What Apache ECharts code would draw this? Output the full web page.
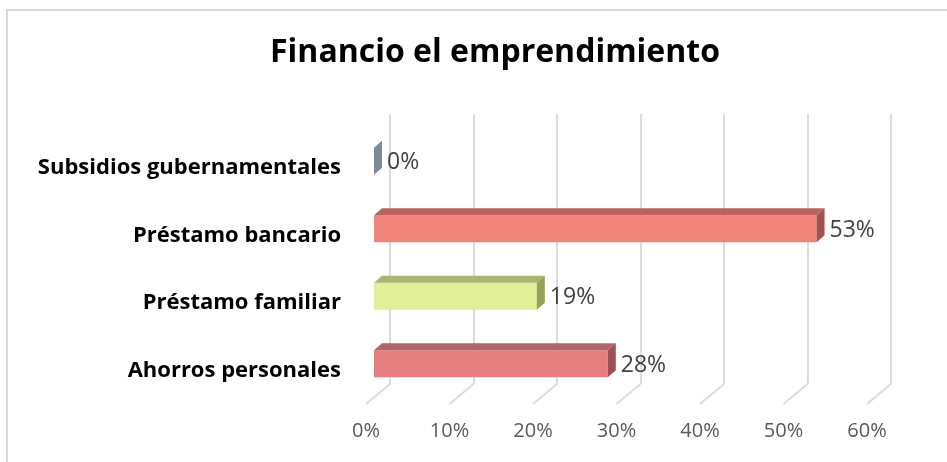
<!DOCTYPE html>
<html>
<head>
<meta charset="utf-8">
<script src="https://cdn.jsdelivr.net/npm/echarts@6/dist/echarts.min.js"></script>
<style>
html, body { margin: 0; background: #fff; }
#main { width: 947px; height: 462px; }
</style>
</head>
<body>
<div id="main"></div>
<script>
const categories = ['Ahorros personales', 'Préstamo familiar', 'Préstamo bancario', 'Subsidios gubernamentales']
const values = [28, 19.5, 53, 0]
const valueLabels = ['28%', '19%', '53%', '0%']
const xTicks = [0, 10, 20, 30, 40, 50, 60]

// front / top / side colours for each bar
const frontColors = ['#e67d80', '#e2ef96', '#f2837a', '#7c889c']
const topColors = ['#b46366', '#a9b56e', '#b9645c', '#7c889c']
const sideColors = ['#9c5252', '#97a15e', '#a0544c', '#7c889c']

const myChart = echarts.init(document.querySelector('#main'))

const plotW = 501
const plotH = 270
const font = 'Open Sans'

myChart.setOption({
    animation: false,
    title: {
        text: 'Financio el emprendimiento',
        left: 490,
        top: 32,
        textAlign: 'center',
        textStyle: { fontFamily: font, fontWeight: 'bold', fontSize: 32, color: '#000' }
    },
    graphic: [{
        type: 'rect',
        shape: { x: 7, y: 10, width: 980, height: 480 },
        style: { fill: null, stroke: '#d9d9d9', lineWidth: 2 },
        silent: true
    }],
    grid: [
        // bar plane
        { left: 374, top: 124, width: plotW, height: plotH },
        // front plane (labels)
        { left: 366, top: 134, width: plotW, height: plotH },
        // back wall
        { left: 390, top: 114, width: plotW, height: plotH }
    ],
    xAxis: [
        { gridIndex: 0, type: 'value', min: 0, max: 60, interval: 10, show: false },
        {
            gridIndex: 1, type: 'value', min: 0, max: 60, interval: 10,
            axisLine: { show: false }, axisTick: { show: false }, splitLine: { show: false },
            axisLabel: { margin: 17, formatter: '{value}%', fontFamily: font, fontSize: 20, color: '#595959' }
        },
        {
            gridIndex: 2, type: 'value', min: 0, max: 60, interval: 10,
            axisLine: { show: false }, axisTick: { show: false }, axisLabel: { show: false },
            splitLine: { show: true, lineStyle: { color: '#dcdcdc', width: 2 } }
        }
    ],
    yAxis: [
        { gridIndex: 0, type: 'category', data: categories, show: false },
        {
            gridIndex: 1, type: 'category', data: categories,
            axisLine: { show: false }, axisTick: { show: false },
            axisLabel: { margin: 25, fontFamily: font, fontWeight: 'bold', fontSize: 22, color: '#000' }
        },
        { gridIndex: 2, type: 'category', data: categories, show: false }
    ],
    series: [
        {
            // floor lines from back wall to front edge
            type: 'custom',
            xAxisIndex: 0,
            yAxisIndex: 0,
            silent: true,
            data: xTicks.map(t => [t, 0]),
            renderItem: (params, api) => {
                const x = api.coord([api.value(0), 0])[0]
                const bottom = params.coordSys.y + params.coordSys.height
                return {
                    type: 'line',
                    shape: { x1: x + 16, y1: bottom - 10, x2: x - 8, y2: bottom + 10 },
                    style: { stroke: '#dcdcdc', lineWidth: 2 }
                }
            }
        },
        {
            type: 'custom',
            xAxisIndex: 0,
            yAxisIndex: 0,
            data: values.map((v, i) => [v, i]),
            renderItem: (params, api) => {
                const i = params.dataIndex
                const p = api.coord([api.value(0), api.value(1)])
                const x0 = api.coord([0, api.value(1)])[0]
                const x1 = p[0]
                const c = p[1]
                const dx = 8, dy = 7
                const yTop = c - 10, yBot = c + 17
                const children = []
                if (x1 - x0 > 0.5) {
                    children.push({
                        type: 'rect',
                        shape: { x: x0, y: yTop, width: x1 - x0, height: yBot - yTop },
                        style: { fill: frontColors[i] }
                    })
                    children.push({
                        type: 'polygon',
                        shape: { points: [[x0, yTop], [x1, yTop], [x1 + dx, yTop - dy], [x0 + dx, yTop - dy]] },
                        style: { fill: topColors[i] }
                    })
                }
                children.push({
                    type: 'polygon',
                    shape: { points: [[x1, yTop], [x1 + dx, yTop - dy], [x1 + dx, yBot - dy], [x1, yBot]] },
                    style: { fill: sideColors[i] }
                })
                children.push({
                    type: 'text',
                    style: {
                        x: x1 + dx + 5, y: c + 5,
                        text: valueLabels[i],
                        fontFamily: font, fontSize: 23, fill: '#404040',
                        verticalAlign: 'middle', align: 'left'
                    }
                })
                return { type: 'group', children }
            }
        }
    ]
})
</script>
</body>
</html>
